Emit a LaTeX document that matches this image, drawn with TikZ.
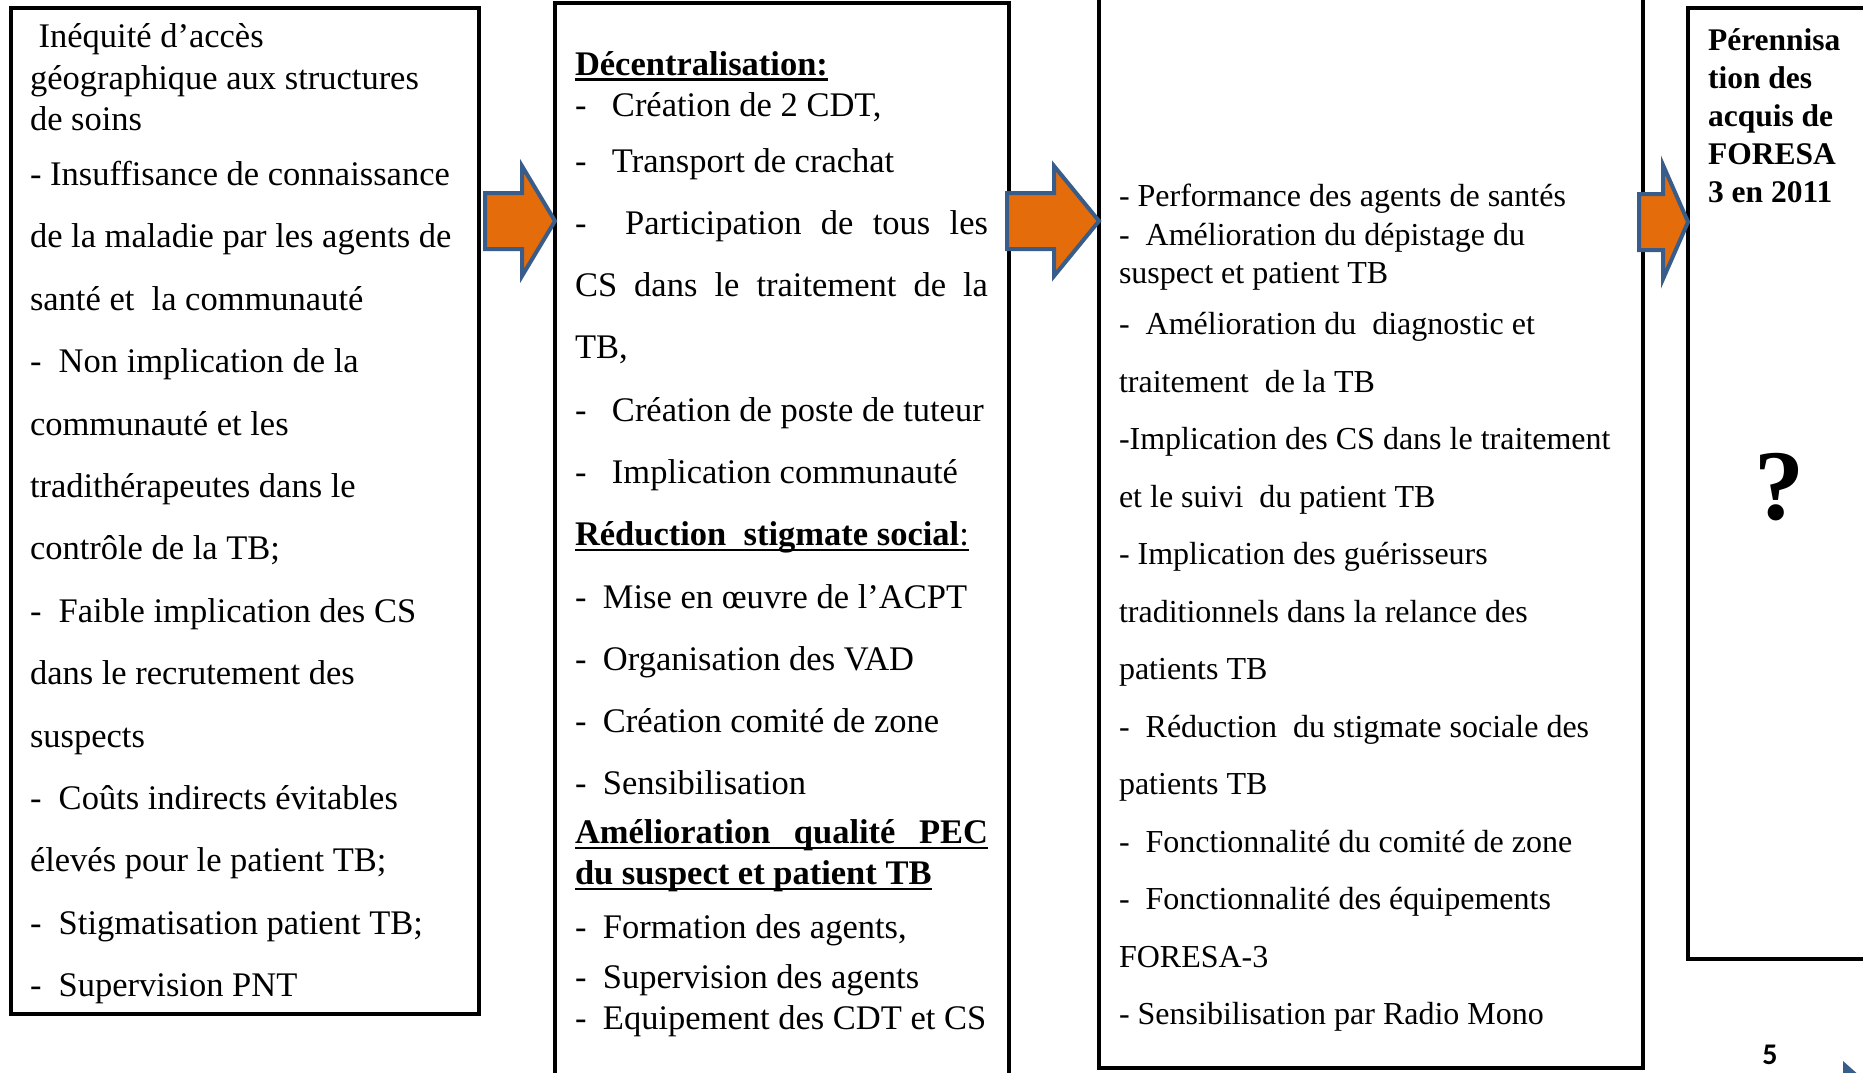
\documentclass[tikz,border=0pt]{standalone}
\usepackage{fontspec}
\setmainfont{Liberation Serif}
\newfontfamily\pagefont{Carlito}
\usepackage{tikz}
\usetikzlibrary{positioning,calc}
\definecolor{arroworange}{RGB}{228,108,10}
\definecolor{arrowblue}{RGB}{56,93,138}
\tikzstyle{panel} = [draw=black, line width=3.5pt, fill=none, inner sep=0pt, outer sep=0pt, anchor=north west]
\tikzstyle{txt} = [draw=none, fill=none, inner sep=0pt, outer sep=0pt, anchor=base west, font=\fontsize{34.5}{41}\selectfont]
\tikzstyle{txtsmall} = [txt, font=\fontsize{32}{38}\selectfont]
\tikzstyle{txtbold} = [txt, font=\fontsize{31.5}{38}\selectfont\bfseries]
\tikzstyle{barrow} = [draw=arrowblue, line width=4pt, fill=arroworange, line join=miter]
\newcommand{\puce}[1][37pt]{\makebox[#1][l]{-}}
\newcommand{\souligne}[1]{\sbox0{#1}\rlap{\rule[-5.5pt]{\wd0}{2.5pt}}\usebox0}
\newcommand{\blockarrow}[4]{%
  \path[barrow] let \p1=(#1), \p2=(#2) in
    (\x1,\y1+28pt) -- (\x2-#3,\y1+28pt) -- (\x2-#3,\y1+#4) -- (\x2,\y1)
    -- (\x2-#3,\y1-#4) -- (\x2-#3,\y1-28pt) -- (\x1,\y1-28pt) -- cycle;}

\begin{document}
\begin{tikzpicture}[x=1pt, y=-1pt]
\useasboundingbox (0,0) rectangle (1863,1072);
%boxes
\node[panel, minimum width=468pt, minimum height=1006pt] (cause) at (11,8) {};
\node[panel, minimum width=454pt, minimum height=1100pt] (strat) at (555,3) {};
\node[panel, minimum width=544pt, minimum height=1098pt] (result) at (1099,-30) {};
\node[panel, minimum width=200pt, minimum height=951pt] (perenn) at (1688,8) {};

%arrows
\coordinate (t1) at (485,221);
\coordinate (t2) at (1007,221);
\coordinate (t3) at (1639,222);
\blockarrow{t1}{strat.west}{33pt}{55pt}
\blockarrow{t2}{result.west}{45pt}{55pt}
\blockarrow{t3}{perenn.west}{25pt}{57pt}

%causes
\node[txt] (c1) at (30,47.5) {\ Inéquité d’accès};
\node[below=41.5pt of c1.base west, txt] (c2) {géographique aux structures};
\node[below=41.5pt of c2.base west, txt] (c3) {de soins};
\node[below=55pt of c3.base west, txt] (c4) {- Insuffisance de connaissance};
\node[below=62.4pt of c4.base west, txt] (c5) {de la maladie par les agents de};
\node[below=62.4pt of c5.base west, txt] (c6) {santé et\ \ la communauté};
\node[below=62.4pt of c6.base west, txt] (c7) {-\ \ Non implication de la};
\node[below=62.4pt of c7.base west, txt] (c8) {communauté et les};
\node[below=62.4pt of c8.base west, txt] (c9) {tradithérapeutes dans le};
\node[below=62.4pt of c9.base west, txt] (c10) {contrôle de la TB;};
\node[below=62.4pt of c10.base west, txt] (c11) {-\ \ Faible implication des CS};
\node[below=62.4pt of c11.base west, txt] (c12) {dans le recrutement des};
\node[below=62.4pt of c12.base west, txt] (c13) {suspects};
\node[below=62.4pt of c13.base west, txt] (c14) {-\ \ Coûts indirects évitables};
\node[below=62.4pt of c14.base west, txt] (c15) {élevés pour le patient TB;};
\node[below=62.4pt of c15.base west, txt] (c16) {-\ \ Stigmatisation patient TB;};
\node[below=62.4pt of c16.base west, txt] (c17) {-\ \ Supervision PNT};

%strategies
\node[txt] (s1) at (575,75) {\souligne{\textbf{Décentralisation:}}};
\node[below=41.5pt of s1.base west, txt] (s2) {\puce Création de 2 CDT,};
\node[below=56pt of s2.base west, txt] (s3) {\puce Transport de crachat};
\node[below=61.7pt of s3.base west, txt] (s4) {\makebox[413pt][s]{-\ \ Participation de tous les}};
\node[below=62.3pt of s4.base west, txt] (s5) {\makebox[413pt][s]{CS dans le traitement de la}};
\node[below=62.3pt of s5.base west, txt] (s6) {TB,};
\node[below=62.3pt of s6.base west, txt] (s7) {\puce Création de poste de tuteur};
\node[below=62.3pt of s7.base west, txt] (s8) {\puce Implication communauté};
\node[below=62.3pt of s8.base west, txt] (s9) {\souligne{\textbf{Réduction\ \ stigmate social}:}};
\node[below=62.3pt of s9.base west, txt] (s10) {\puce[28pt]Mise en œuvre de l’ACPT};
\node[below=62.3pt of s10.base west, txt] (s11) {\puce[28pt]Organisation des VAD};
\node[below=62.3pt of s11.base west, txt] (s12) {\puce[28pt]Création comité de zone};
\node[below=62.3pt of s12.base west, txt] (s13) {\puce[28pt]Sensibilisation};
\node[below=48.6pt of s13.base west, txt] (s14) {\souligne{\makebox[413pt][s]{\bfseries Amélioration\ \ qualité\ \ PEC}}};
\node[below=41.4pt of s14.base west, txt] (s15) {\souligne{\textbf{du suspect et patient TB}}};
\node[below=53.5pt of s15.base west, txt] (s16) {\puce[28pt]Formation des agents,};
\node[below=50pt of s16.base west, txt] (s17) {\puce[28pt]Supervision des agents};
\node[below=41.5pt of s17.base west, txt] (s18) {\puce[28pt]Equipement des CDT et CS};

%results
\node[txtsmall] (r1) at (1119,206) {- Performance des agents de santés};
\node[below=39pt of r1.base west, txtsmall] (r2) {-\ \ Amélioration du dépistage du};
\node[below=38.5pt of r2.base west, txtsmall] (r3) {suspect et patient TB};
\node[below=51pt of r3.base west, txtsmall] (r4) {-\ \ Amélioration du\ \ diagnostic et};
\node[below=57.5pt of r4.base west, txtsmall] (r5) {traitement\ \ de la TB};
\node[below=57.5pt of r5.base west, txtsmall] (r6) {-Implication des CS dans le traitement};
\node[below=57.5pt of r6.base west, txtsmall] (r7) {et le suivi\ \ du patient TB};
\node[below=57.5pt of r7.base west, txtsmall] (r8) {- Implication des guérisseurs};
\node[below=57.5pt of r8.base west, txtsmall] (r9) {traditionnels dans la relance des};
\node[below=57.5pt of r9.base west, txtsmall] (r10) {patients TB};
\node[below=57.5pt of r10.base west, txtsmall] (r11) {-\ \ Réduction\ \ du stigmate sociale des};
\node[below=57.5pt of r11.base west, txtsmall] (r12) {patients TB};
\node[below=57.5pt of r12.base west, txtsmall] (r13) {-\ \ Fonctionnalité du comité de zone};
\node[below=57.5pt of r13.base west, txtsmall] (r14) {-\ \ Fonctionnalité des équipements};
\node[below=57.5pt of r14.base west, txtsmall] (r15) {FORESA-3};
\node[below=57.5pt of r15.base west, txtsmall] (r16) {- Sensibilisation par Radio Mono};

%perennite
\node[txtbold] (p1) at (1708,50.5) {Pérennisa};
\node[below=38pt of p1.base west, txtbold] (p2) {tion des};
\node[below=38pt of p2.base west, txtbold] (p3) {acquis de};
\node[below=38pt of p3.base west, txtbold] (p4) {FORESA};
\node[below=38pt of p4.base west, txtbold] (p5) {3 en 2011};
\node[font=\fontsize{100}{100}\selectfont\bfseries, inner sep=0pt] (q) at (1779,487) {?};

%page
\node[font=\pagefont\bfseries\fontsize{30}{30}\selectfont, inner sep=0pt] (pg) at (1770,1055) {5};
\fill[arrowblue] (1843,1061) -- (1870,1085) -- (1843,1085) -- cycle;

\end{tikzpicture}
\end{document}
